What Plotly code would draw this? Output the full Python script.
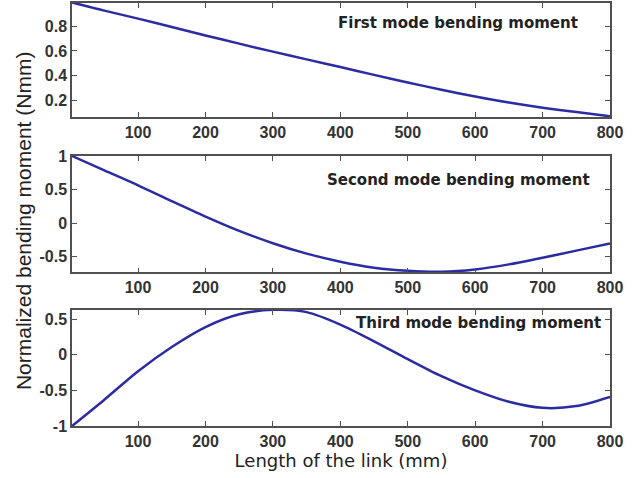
import plotly.graph_objects as go

length_mm = [2, 50, 100, 150, 200, 250, 300, 350, 400, 450, 500, 550, 600, 650, 700, 750, 800]
mode1 = [0.995, 0.928, 0.863, 0.795, 0.726, 0.659, 0.594, 0.531, 0.469, 0.405, 0.343, 0.284, 0.229, 0.180, 0.138, 0.102, 0.068]
mode2 = [1.0, 0.785, 0.563, 0.327, 0.098, -0.115, -0.300, -0.455, -0.575, -0.665, -0.712, -0.725, -0.69, -0.615, -0.515, -0.41, -0.303]
mode3 = [-1.0, -0.63, -0.23, 0.11, 0.39, 0.57, 0.632, 0.600, 0.425, 0.19, -0.06, -0.30, -0.50, -0.66, -0.745, -0.72, -0.59]

titles = ["First mode bending moment", "Second mode bending moment", "Third mode bending moment"]
x_ticks = [100, 200, 300, 400, 500, 600, 700, 800]
y1_ticks = [0.2, 0.4, 0.6, 0.8]
y2_ticks = [-0.5, 0, 0.5, 1]
y3_ticks = [-1, -0.5, 0, 0.5]

LINE = "#2c2ca2"
AX = "#505050"
TXT = "#222222"

fig = go.Figure()
series = [mode1, mode2, mode3]
for i, s in enumerate(series):
    sfx = "" if i == 0 else str(i + 1)
    fig.add_trace(go.Scatter(x=length_mm, y=s, mode="lines",
                             line=dict(color=LINE, width=2.5, shape="spline", smoothing=0.8),
                             xaxis="x" + sfx, yaxis="y" + sfx, showlegend=False))

domains = [[0.7305, 1.0], [0.3634, 0.6383], [0.0, 0.2742]]
yranges = [[0.062, 0.99], [-0.733, 1.0], [-1.0, 0.63]]
yticks = [y1_ticks, y2_ticks, y3_ticks]
ytext = [["0.2", "0.4", "0.6", "0.8"], ["-0.5", "0", "0.5", "1"], ["-1", "-0.5", "0", "0.5"]]

TICKFONT = dict(family="Liberation Sans Narrow, Arial Narrow, Liberation Sans", size=16,
                color="#333333", weight="bold")

layout = dict(
    width=635, height=478,
    margin=dict(l=72, r=25, t=3, b=52, autoexpand=False),
    plot_bgcolor="white", paper_bgcolor="white",
    font=dict(family="Liberation Sans, Arial", color=TXT),
)
axis_common = dict(showline=True, linecolor=AX, linewidth=1.5, mirror="ticks", ticks="inside",
                   ticklen=5, tickwidth=1.2, tickcolor=AX, showgrid=False, zeroline=False,
                   automargin=False, tickfont=TICKFONT)
for i in range(3):
    sfx = "" if i == 0 else str(i + 1)
    layout["xaxis" + sfx] = dict(axis_common, anchor="y" + sfx, domain=[0, 1], range=[2, 800],
                                 tickvals=x_ticks, ticktext=[str(v) for v in x_ticks])
    layout["yaxis" + sfx] = dict(axis_common, anchor="x" + sfx, domain=domains[i], range=yranges[i],
                                 tickvals=yticks[i], ticktext=ytext[i])
layout["xaxis3"]["title"] = dict(text="Length of the link (mm)", standoff=4,
                                 font=dict(family="DejaVu Sans", size=18, color=TXT))
fig.update_layout(**layout)

ann_pos = [(0.718, 0.822), (0.718, 0.794), (0.7565, 0.89)]
for i, t in enumerate(titles):
    sfx = "" if i == 0 else str(i + 1)
    fig.add_annotation(text=t, xref="x" + sfx + " domain", yref="y" + sfx + " domain",
                       x=ann_pos[i][0], y=ann_pos[i][1], showarrow=False,
                       xanchor="center", yanchor="middle",
                       font=dict(family="DejaVu Sans", size=15, color=TXT, weight="bold"))

fig.add_annotation(text="Normalized bending moment (Nmm)", xref="paper", yref="paper",
                   x=-0.091, y=0.4846, textangle=-90, showarrow=False, xanchor="center", yanchor="middle",
                   font=dict(family="Liberation Sans, Arial", size=21, color=TXT))

fig.write_html("out.html", config={"displayModeBar": False},
               post_script="document.body.style.margin='0';document.body.style.overflow='hidden';")
